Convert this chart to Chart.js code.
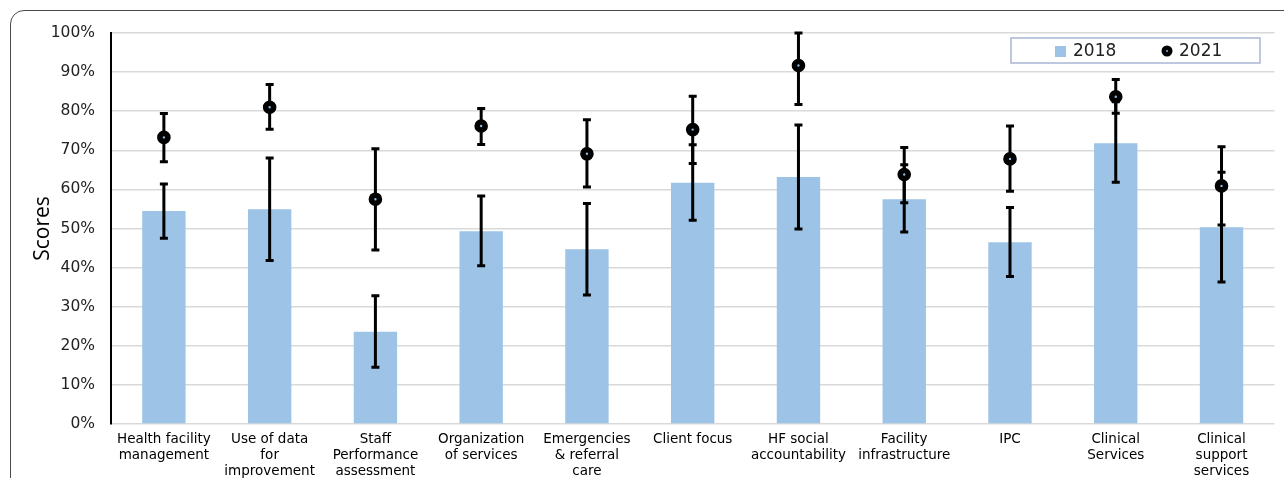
<!DOCTYPE html>
<html>
<head>
<meta charset="utf-8">
<script src="https://cdn.jsdelivr.net/npm/chart.js@4.4.0/dist/chart.umd.min.js"></script>
<style>
  html, body { margin: 0; padding: 0; background: #fff; overflow: hidden; }
  #wrap { position: relative; width: 1284px; height: 478px; }
  #frame {
    position: absolute; left: 10px; top: 10px; width: 1320px; height: 520px;
    border: 1.5px solid #4a4a4a; border-radius: 14px; box-sizing: border-box;
  }
  canvas { position: absolute; left: 0; top: 0; }
</style>
</head>
<body>
<div id="wrap">
  <div id="frame"></div>
  <canvas id="chart" width="1284" height="478"></canvas>
</div>
<script>
// categories (multi-line labels as in the figure)
var categories = [
  ['Health facility', 'management'],
  ['Use of data', 'for', 'improvement'],
  ['Staff', 'Performance', 'assessment'],
  ['Organization', 'of services'],
  ['Emergencies', '& referral', 'care'],
  ['Client focus'],
  ['HF social', 'accountability'],
  ['Facility', 'infrastructure'],
  ['IPC'],
  ['Clinical', 'Services'],
  ['Clinical', 'support', 'services']
];

// 2018 scores (%) and error bar ends
var scores2018 = [54.5, 54.9, 23.6, 49.3, 44.7, 61.7, 63.2, 57.5, 46.5, 71.8, 50.3];
var low2018    = [47.5, 41.8, 14.5, 40.5, 33.0, 52.1, 49.9, 49.1, 37.7, 61.8, 36.3];
var high2018   = [61.4, 68.0, 32.8, 58.3, 56.4, 71.4, 76.5, 66.3, 55.4, 82.4, 64.4];

// 2021 scores (%) and error bar ends
var scores2021 = [73.3, 81.0, 57.5, 76.2, 69.1, 75.3, 91.7, 63.8, 67.8, 83.7, 60.9];
var low2021    = [67.1, 75.4, 44.5, 71.5, 60.6, 66.6, 81.7, 56.6, 59.5, 79.5, 50.9];
var high2021   = [79.4, 86.8, 70.4, 80.7, 77.8, 83.8, 100, 70.7, 76.2, 88.1, 70.9];

var yTicks = [0, 10, 20, 30, 40, 50, 60, 70, 80, 90, 100];

var barBlue = '#9dc3e6';
var font = '"DejaVu Sans", "Liberation Sans", sans-serif';

// draws all error bars after the bars, before the 2021 markers
var errorBars = {
  id: 'errorBars',
  beforeDatasetDraw: function (chart, args) {
    if (args.index !== 1) return;
    var ctx = chart.ctx;
    var y = chart.scales.y;
    ctx.save();
    ctx.strokeStyle = '#000';
    ctx.lineWidth = 3;
    chart.data.datasets.forEach(function (ds, di) {
      var meta = chart.getDatasetMeta(di);
      meta.data.forEach(function (el, i) {
        var x = el.x;
        var yl = y.getPixelForValue(ds.errLow[i]);
        var yh = y.getPixelForValue(ds.errHigh[i]);
        ctx.beginPath();
        ctx.moveTo(x, yl); ctx.lineTo(x, yh);
        ctx.moveTo(x - 4, yl); ctx.lineTo(x + 4, yl);
        ctx.moveTo(x - 4, yh); ctx.lineTo(x + 4, yh);
        ctx.stroke();
      });
    });
    ctx.restore();
  }
};

// legend box inside the plot, top right
var boxLegend = {
  id: 'boxLegend',
  afterDraw: function (chart) {
    var ctx = chart.ctx;
    var ds = chart.data.datasets;
    ctx.save();
    ctx.fillStyle = '#fff';
    ctx.fillRect(1011, 38, 249, 25);
    ctx.strokeStyle = '#a8b6d4';
    ctx.lineWidth = 1.5;
    ctx.strokeRect(1011, 38, 249, 25);
    ctx.font = '17px ' + font;
    ctx.textBaseline = 'middle';
    ctx.fillStyle = barBlue;
    ctx.fillRect(1055, 46, 11, 11);
    ctx.fillStyle = '#222';
    ctx.fillText(ds[0].label, 1073, 51.5);
    ctx.beginPath();
    ctx.arc(1167, 51, 5.5, 0, Math.PI * 2);
    ctx.fillStyle = '#000';
    ctx.fill();
    ctx.beginPath();
    ctx.arc(1167, 51, 1, 0, Math.PI * 2);
    ctx.fillStyle = '#8fb8de';
    ctx.fill();
    ctx.fillStyle = '#222';
    ctx.fillText(ds[1].label, 1179, 51.5);
    ctx.restore();
  }
};

var ctx = document.getElementById('chart').getContext('2d');
var chart = new Chart(ctx, {
  type: 'bar',
  data: {
    labels: categories,
    datasets: [{
      label: '2018',
      data: scores2018,
      errLow: low2018,
      errHigh: high2018,
      backgroundColor: barBlue,
      barPercentage: 0.41,
      categoryPercentage: 1,
      order: 2
    }, {
      type: 'line',
      label: '2021',
      data: scores2021,
      errLow: low2021,
      errHigh: high2021,
      showLine: false,
      pointStyle: 'circle',
      pointRadius: 4,
      pointBorderWidth: 5.6,
      pointBorderColor: '#000',
      pointBackgroundColor: '#8fb8de',
      order: 1
    }]
  },
  options: {
    responsive: false,
    animation: false,
    devicePixelRatio: 1,
    layout: { padding: { top: 33, right: 9, left: 30, bottom: 0 } },
    plugins: {
      legend: { display: false },
      tooltip: { enabled: false }
    },
    scales: {
      x: {
        grid: { display: false, drawTicks: false },
        border: { display: false },
        ticks: {
          autoSkip: false,
          maxRotation: 0,
          padding: 8,
          color: '#000',
          font: { family: font, size: 13.5, lineHeight: 1.17 }
        },
        afterFit: function (s) { s.height = 54; }
      },
      y: {
        min: 0,
        max: 100,
        afterBuildTicks: function (s) { s.ticks = yTicks.map(function (v) { return { value: v }; }); },
        grid: { color: '#d9d9d9', lineWidth: 1.5, drawTicks: false },
        border: { color: '#000', width: 2 },
        ticks: {
          padding: 16,
          color: '#222',
          font: { family: font, size: 15.5 },
          callback: function (v) { return v + '%'; }
        },
        title: {
          display: true,
          text: 'Scores',
          color: '#000',
          padding: { top: 0, bottom: 0 },
          font: { family: '"Open Sans", sans-serif', size: 21 }
        },
        afterFit: function (s) { s.width = 81; }
      }
    }
  },
  plugins: [errorBars, boxLegend]
});
</script>
</body>
</html>
